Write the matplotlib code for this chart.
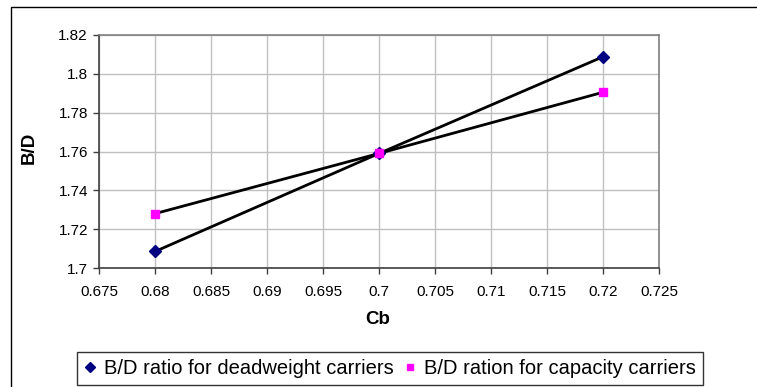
import matplotlib
matplotlib.use('Agg')
import matplotlib.pyplot as plt
from matplotlib.patches import Rectangle

plt.rcParams['font.family'] = ['Liberation Sans', 'DejaVu Sans']

# data
cb = [0.68, 0.70, 0.72]
bd_deadweight = [1.7085, 1.759, 1.8088]
bd_capacity = [1.728, 1.759, 1.7905]
xticks = [0.675, 0.68, 0.685, 0.69, 0.695, 0.7, 0.705, 0.71, 0.715, 0.72, 0.725]
yticks = [1.7, 1.72, 1.74, 1.76, 1.78, 1.8, 1.82]

W, H = 757, 387
fig = plt.figure(figsize=(W / 100, H / 100), dpi=100)
fig.patch.set_facecolor('white')

# outer chart border
fig.add_artist(Rectangle((11 / W, -0.05), 1.2, (H - 7) / H + 0.05, transform=fig.transFigure,
                         fill=False, ec='black', lw=1.0))

ax = fig.add_axes([99 / W, 1 - 268 / H, (659 - 99) / W, (268 - 35) / H])
ax.plot(cb, bd_deadweight, color='black', lw=2, zorder=3)
ax.plot(cb, bd_capacity, color='black', lw=2, zorder=3)
ax.plot(cb, bd_deadweight, ls='none', marker='D', ms=6, color='#000080', zorder=4,
        label='B/D ratio for deadweight carriers')
ax.plot(cb, bd_capacity, ls='none', marker='s', ms=6, color='#ff00ff', zorder=4,
        label='B/D ration for capacity carriers')

ax.set_xlim(0.675, 0.725)
ax.set_ylim(1.7, 1.82)
ax.set_xticks(xticks)
ax.set_xticklabels([f'{v:g}' for v in xticks])
ax.set_yticks(yticks)
ax.set_yticklabels([f'{v:g}' for v in yticks])
ax.grid(True, color='#c0c0c0', lw=1)
ax.set_axisbelow(True)
for s in ['top', 'right']:
    ax.spines[s].set_color('#808080')
for s in ['left', 'bottom']:
    ax.spines[s].set_color('#404040')
for s in ax.spines.values():
    s.set_linewidth(1.2)
ax.tick_params(direction='out', length=4, width=1, color='#404040', labelsize=11)
ax.tick_params(axis='x', pad=8)
ax.tick_params(axis='y', pad=4)

fig.text(378 / W, 1 - 319 / H, 'Cb', ha='center', va='center', fontsize=13.5, fontweight='bold')
fig.text(29 / W, 1 - 148 / H, 'B/D', ha='center', va='center', fontsize=13.5,
         fontweight='bold', rotation=90)

leg = fig.legend(loc='center', bbox_to_anchor=(390 / W, 1 - 368.5 / H), ncol=2,
                 fontsize=14.5, frameon=True, fancybox=False, edgecolor='black',
                 handlelength=0.6, handletextpad=0.4, columnspacing=0.5,
                 borderpad=0.35, markerscale=0.8)
leg.get_frame().set_linewidth(1.0)

fig.savefig('out.png', dpi=100)
